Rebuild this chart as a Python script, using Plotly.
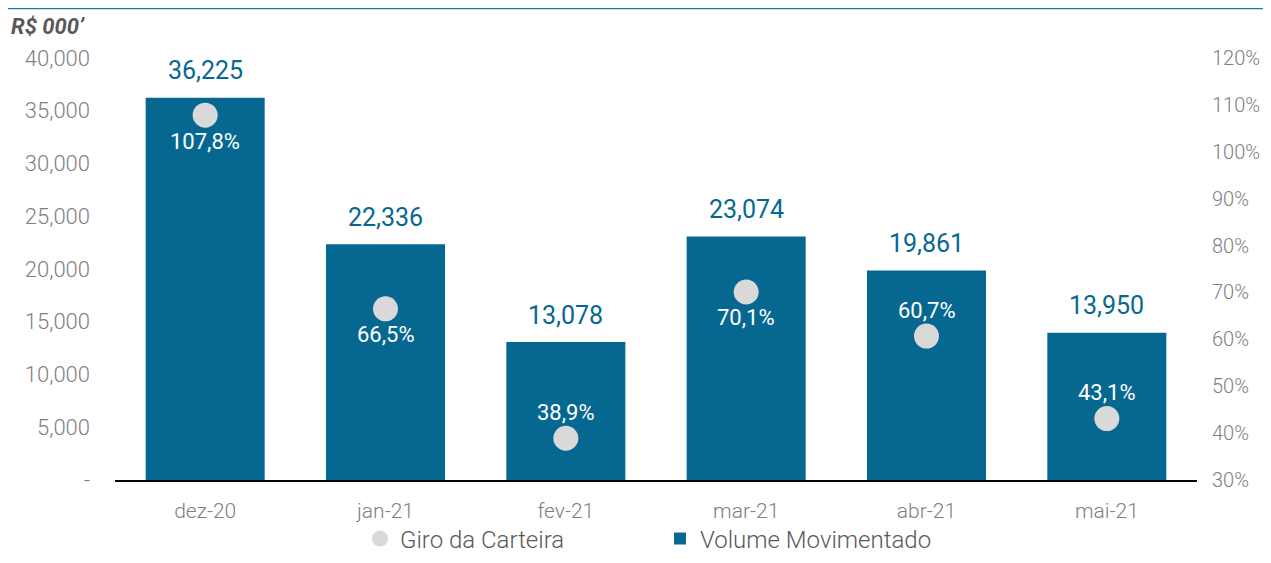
import plotly.graph_objects as go

categories = ["dez-20", "jan-21", "fev-21", "mar-21", "abr-21", "mai-21"]
volume = [36225, 22336, 13078, 23074, 19861, 13950]
giro = [1.078, 0.665, 0.389, 0.701, 0.607, 0.431]
giro_labels = ["107,8%", "66,5%", "38,9%", "70,1%", "60,7%", "43,1%"]
giro_label_side = [-1, -1, 1, -1, 1, 1]  # -1 below point, 1 above
left_ticks = [0, 5000, 10000, 15000, 20000, 25000, 30000, 35000, 40000]
left_tick_text = ["-", "5,000", "10,000", "15,000", "20,000", "25,000", "30,000", "35,000", "40,000"]
right_ticks = [0.3, 0.4, 0.5, 0.6, 0.7, 0.8, 0.9, 1.0, 1.1, 1.2]
right_tick_text = ["30%", "40%", "50%", "60%", "70%", "80%", "90%", "100%", "110%", "120%"]

BLUE = "#066891"
GREY_TXT = "#808080"
FONT = "Roboto"

# page body has an 8px margin; size the figure so it fits inside the 1271x563 window
W, H = 1255, 547
ml, mr, mt, mb = 107, 66, 50, 75
pw, ph = W - ml - mr, H - mt - mb

fig = go.Figure()
fig.add_trace(go.Bar(
    x=categories, y=volume, name="Volume Movimentado",
    marker=dict(color=BLUE, line=dict(width=0)), width=0.66,
    yaxis="y", legendrank=2,
))
fig.add_trace(go.Scatter(
    x=categories, y=giro, name="Giro da Carteira", mode="markers",
    marker=dict(color="#d9d9d9", size=25, line=dict(width=0)),
    yaxis="y2", legendrank=1,
))

annotations = []
for c, v in zip(categories, volume):
    annotations.append(dict(
        x=c, y=v, xref="x", yref="y", text=f"{v:,}", showarrow=False,
        yanchor="middle", yshift=27,
        font=dict(family=FONT, size=25, color=BLUE),
    ))
for c, g, t, s in zip(categories, giro, giro_labels, giro_label_side):
    annotations.append(dict(
        x=c, y=g, xref="x", yref="y2", text=t, showarrow=False,
        yanchor="middle", yshift=26 * s,
        font=dict(family=FONT, size=22, color="white"),
    ))
annotations.append(dict(
    x=(1 - ml) / pw, y=(H - mb - 19) / ph, xref="paper", yref="paper",
    text="<b><i>R$ 000’</i></b>",
    showarrow=False, xanchor="left", yanchor="middle",
    font=dict(family=FONT, size=22, color="#595959"),
))

fig.update_layout(
    width=W, height=H,
    margin=dict(l=ml, r=mr, t=mt, b=mb, autoexpand=False),
    paper_bgcolor="white", plot_bgcolor="white",
    font=dict(family=FONT, color=GREY_TXT),
    xaxis=dict(
        showline=True, linecolor="black", linewidth=2, showgrid=False,
        ticks="", tickfont=dict(size=21, color=GREY_TXT, weight=300),
        ticklabelstandoff=11, automargin=False,
    ),
    yaxis=dict(
        range=[0, 40000], tickvals=left_ticks, ticktext=left_tick_text,
        showgrid=False, zeroline=False, showline=False, automargin=False,
        tickfont=dict(size=22, color=GREY_TXT, weight=300), ticklabelstandoff=24,
    ),
    yaxis2=dict(
        range=[0.3, 1.2], tickvals=right_ticks, ticktext=right_tick_text,
        overlaying="y", side="right", showgrid=False, zeroline=False, automargin=False,
        tickfont=dict(size=20, color=GREY_TXT, weight=300), ticklabelstandoff=14,
    ),
    legend=dict(
        orientation="h", x=0.5 + 4 / pw, xanchor="center", yref="container",
        y=(H - 531) / H, yanchor="middle", bgcolor="rgba(0,0,0,0)",
        font=dict(size=24, color="#595959", weight=300),
        entrywidth=255, entrywidthmode="pixels",
    ),
    showlegend=True,
    annotations=annotations,
    shapes=[dict(type="line", xref="paper", yref="paper",
                 x0=-ml / pw, x1=(W - ml) / pw, y0=(H - mb - 0.5) / ph, y1=(H - mb - 0.5) / ph,
                 line=dict(color="#1a7aa6", width=1.5))],
)

fig.write_html("out.html")
